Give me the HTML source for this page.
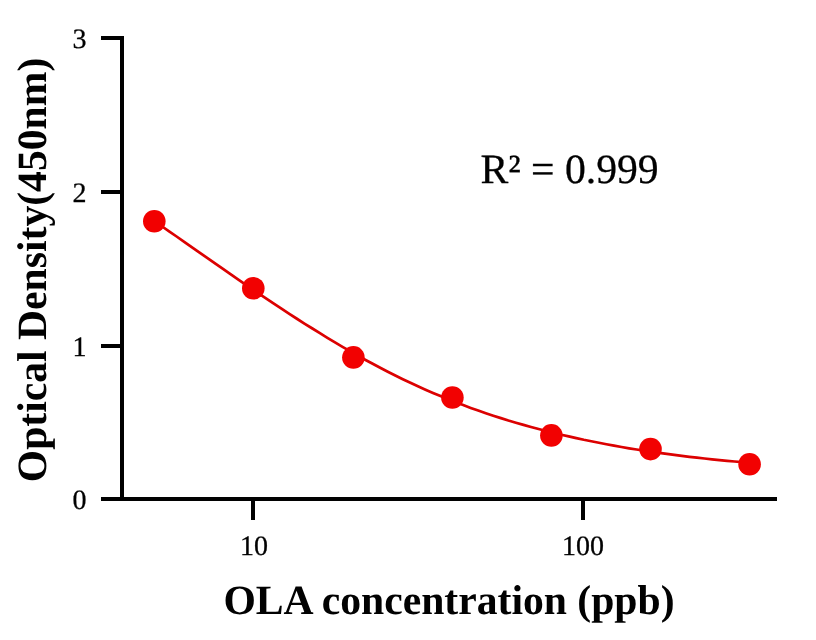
<!DOCTYPE html>
<html><head><meta charset="utf-8"><title>OLA standard curve</title>
<style>
html,body{margin:0;padding:0;background:#fff;}
body{width:816px;height:640px;overflow:hidden;}
svg{display:block;}
text{font-family:"Liberation Serif",serif;fill:#000;text-rendering:geometricPrecision;}
svg{will-change:transform;opacity:0.999;}
.t{font-size:28px;stroke:#000;stroke-width:0.3px;}
.b{font-size:41.65px;font-weight:bold;}
.r{font-size:41.65px;stroke:#000;stroke-width:0.3px;}
</style></head>
<body>
<svg width="816" height="640" viewBox="0 0 816 640">
<rect width="816" height="640" fill="#fff"/>
<g fill="#000" shape-rendering="crispEdges">
<rect x="120" y="36" width="4" height="465"/>
<rect x="101" y="497" width="676" height="4"/>
<rect x="101" y="36" width="20" height="4"/>
<rect x="101" y="190" width="20" height="4"/>
<rect x="101" y="344" width="20" height="4"/>
<rect x="251" y="500" width="4" height="20"/>
<rect x="581" y="500" width="4" height="20"/>
</g>
<path d="M154.0,220.8 L161.5,226.0 L169.1,231.3 L176.6,236.5 L184.2,241.8 L191.7,247.1 L199.2,252.4 L206.8,257.6 L214.3,262.9 L221.9,268.2 L229.4,273.4 L236.9,278.6 L244.5,283.8 L252.0,289.0 L259.6,294.1 L267.1,299.2 L274.6,304.2 L282.2,309.2 L289.7,314.1 L297.3,319.0 L304.8,323.8 L312.4,328.5 L319.9,333.2 L327.4,337.8 L335.0,342.4 L342.5,346.8 L350.1,351.2 L357.6,355.5 L365.1,359.7 L372.7,363.8 L380.2,367.8 L387.8,371.7 L395.3,375.5 L402.8,379.2 L410.4,382.8 L417.9,386.3 L425.5,389.7 L433.0,392.9 L440.5,396.1 L448.1,399.2 L455.6,402.2 L463.2,405.1 L470.7,407.9 L478.2,410.6 L485.8,413.2 L493.3,415.7 L500.9,418.1 L508.4,420.5 L515.9,422.7 L523.5,424.9 L531.0,427.0 L538.6,429.0 L546.1,431.0 L553.6,432.9 L561.2,434.7 L568.7,436.4 L576.3,438.1 L583.8,439.8 L591.3,441.3 L598.9,442.8 L606.4,444.3 L614.0,445.7 L621.5,447.0 L629.1,448.3 L636.6,449.5 L644.1,450.7 L651.7,451.8 L659.2,452.9 L666.8,453.9 L674.3,454.9 L681.8,455.9 L689.4,456.8 L696.9,457.7 L704.5,458.5 L712.0,459.3 L719.5,460.1 L727.1,460.8 L734.6,461.5 L742.2,462.1 L749.7,462.8" fill="none" stroke="#dc0000" stroke-width="2.7" stroke-linejoin="round"/>
<g fill="#f20000">
<circle cx="154.3" cy="221.3" r="11.3"/>
<circle cx="253.3" cy="288.3" r="11.3"/>
<circle cx="353.4" cy="357.4" r="11.3"/>
<circle cx="452.4" cy="397.5" r="11.3"/>
<circle cx="551.4" cy="435.4" r="11.3"/>
<circle cx="650.5" cy="449.1" r="11.3"/>
<circle cx="749.6" cy="464.2" r="11.3"/>
</g>
<text class="t" x="86.6" y="48" text-anchor="end">3</text>
<text class="t" x="86.6" y="202" text-anchor="end">2</text>
<text class="t" x="86.6" y="356" text-anchor="end">1</text>
<text class="t" x="86.6" y="509" text-anchor="end">0</text>
<text class="t" x="254" y="555" text-anchor="middle">10</text>
<text class="t" x="583" y="555" text-anchor="middle">100</text>
<text class="r" x="480.4" y="183">R² = 0.999</text>
<text class="b" x="449" y="614" text-anchor="middle">OLA concentration (ppb)</text>
<text class="b" transform="translate(46,270) rotate(-90)" text-anchor="middle">Optical Density(450nm)</text>
</svg>
</body></html>
